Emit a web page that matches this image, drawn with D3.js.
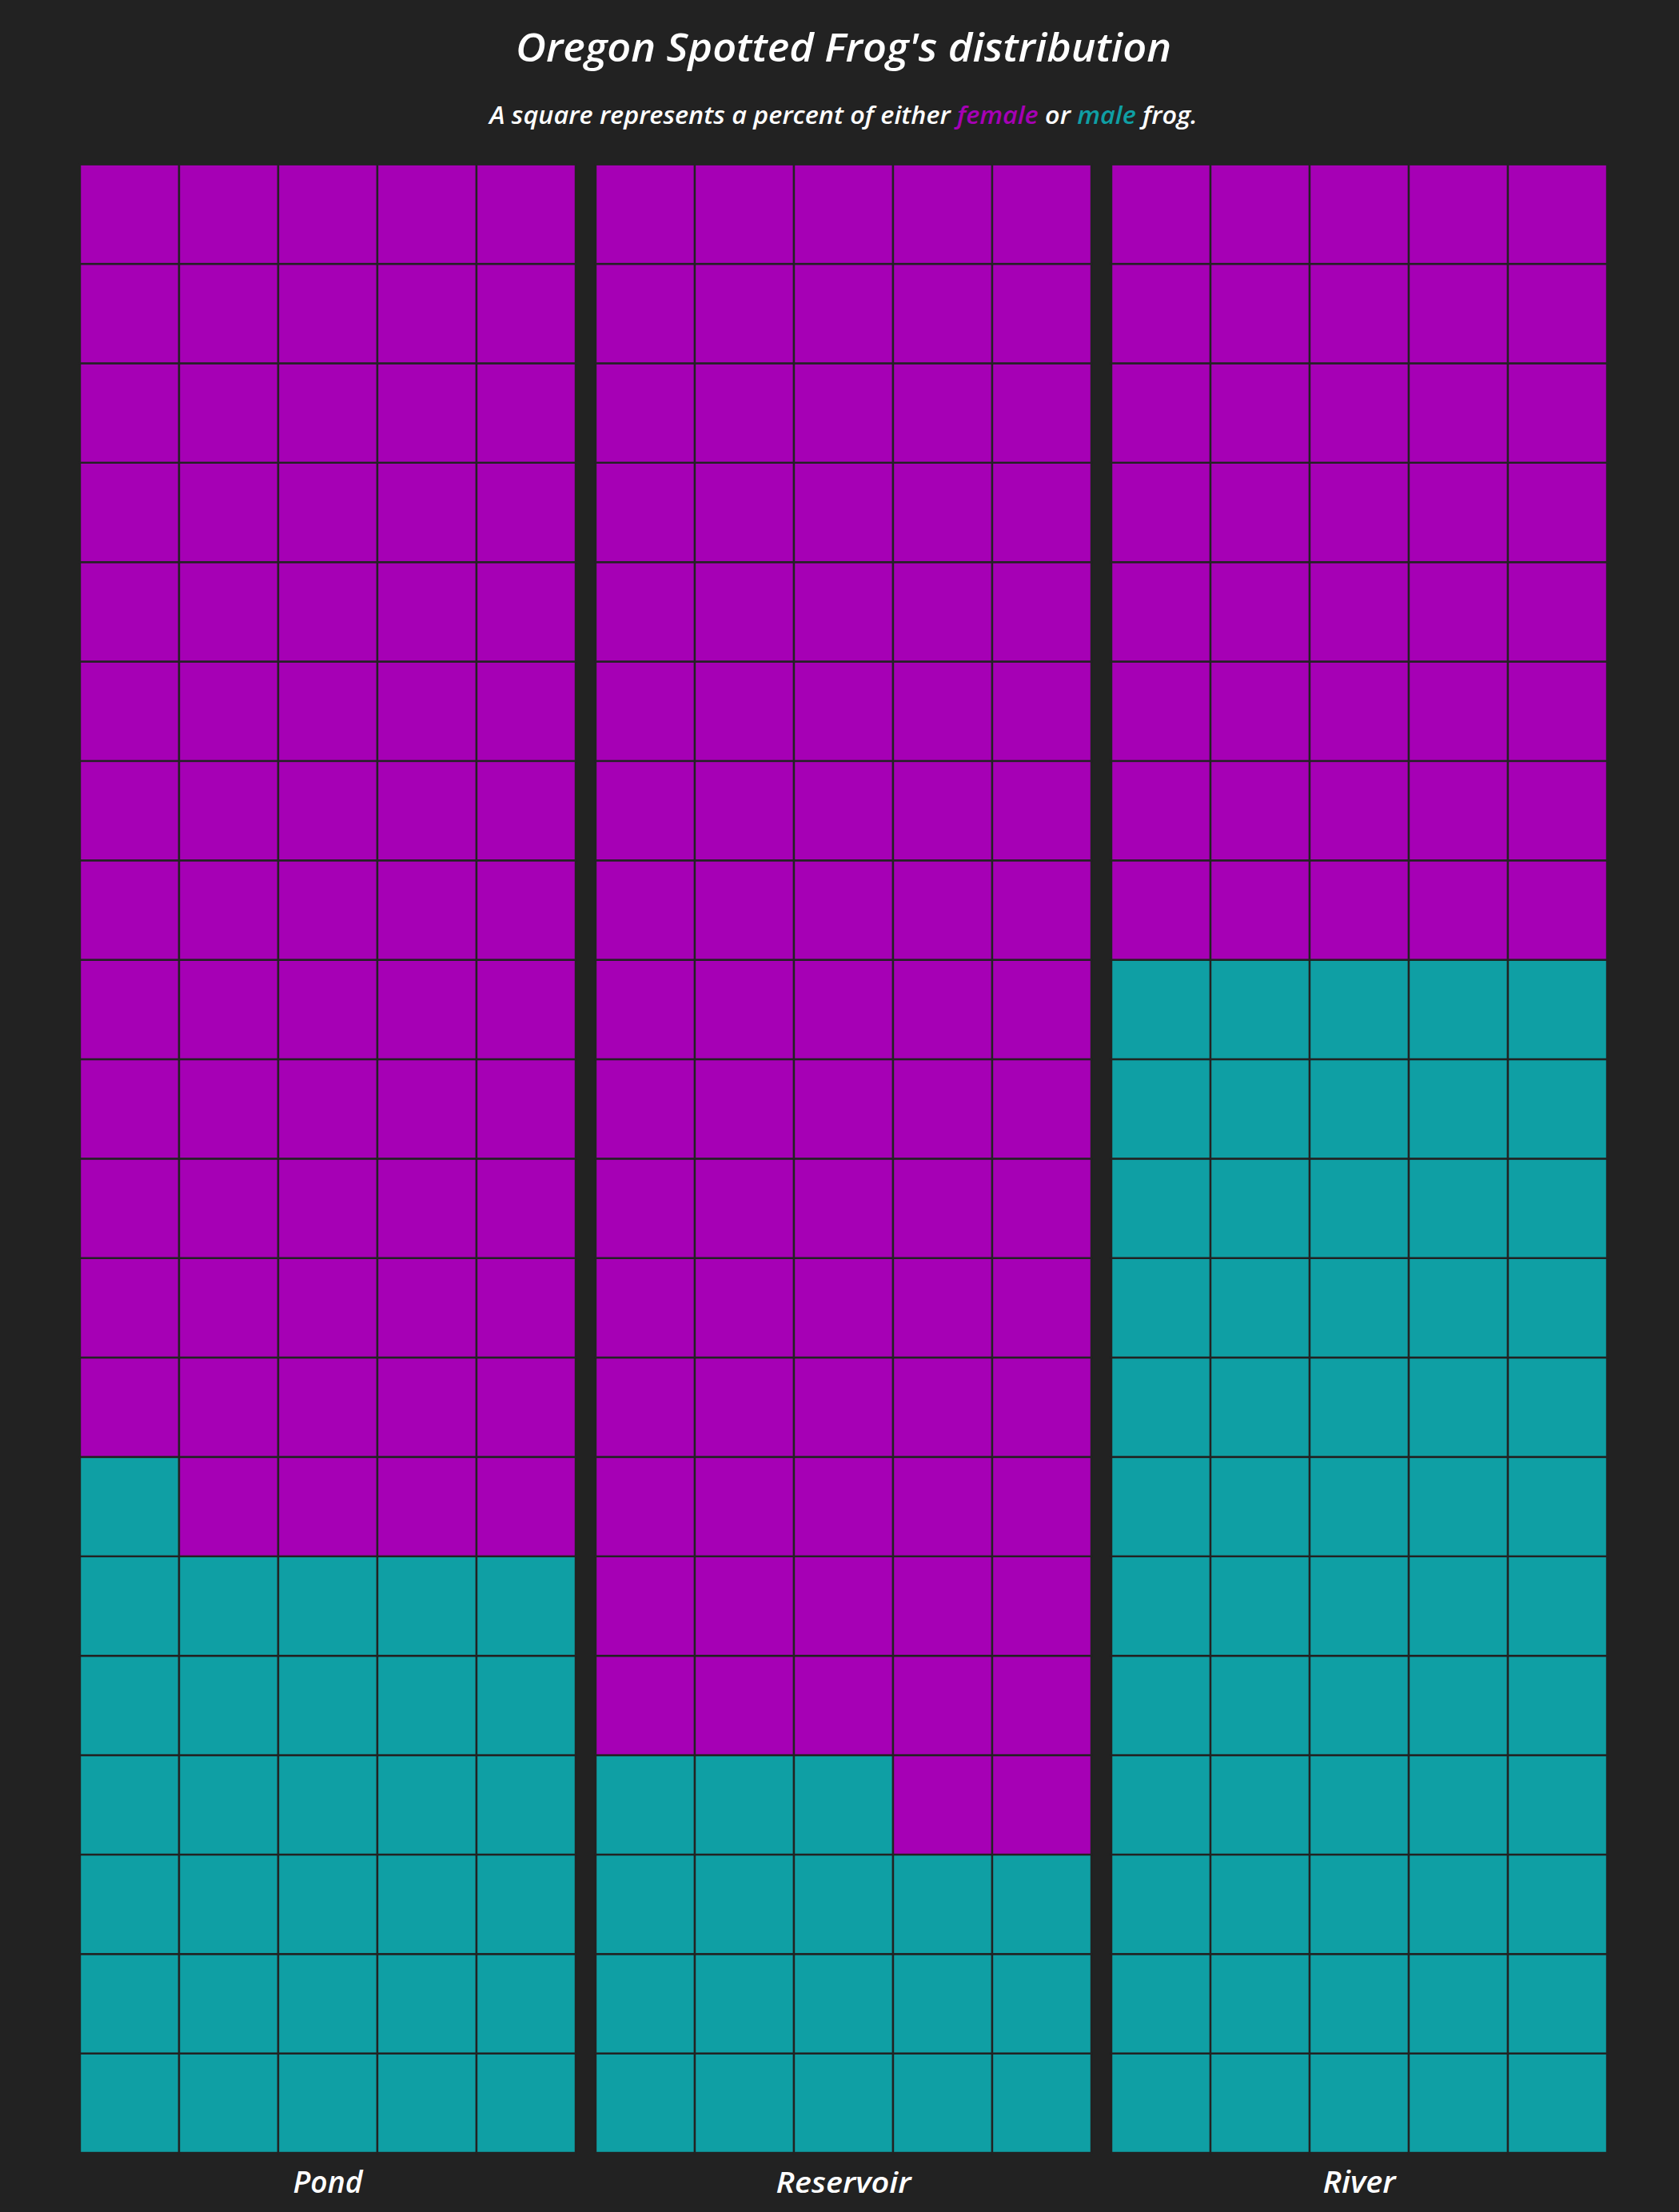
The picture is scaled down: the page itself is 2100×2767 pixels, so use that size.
<!DOCTYPE html>
<html>
<head>
<meta charset="utf-8">
<script src="https://cdn.jsdelivr.net/npm/d3@7"></script>
<style>
  html, body { margin: 0; padding: 0; background: #222222; }
  svg { display: block; }
  text { font-family: "Open Sans", "Noto Sans", sans-serif; font-style: italic; font-weight: 600; }
</style>
</head>
<body>
<svg id="chart" width="2100" height="2767"></svg>
<script>
// ---- data ----
const habitats = ["Pond", "Reservoir", "River"];
const femalePct = [69, 82, 40];
const malePct = [31, 18, 60];
const sexes = ["male", "female"];
const sexColors = ["#0f9fa4", "#a600b5"];
const titleText = "Oregon Spotted Frog's distribution";
const subtitleParts = [
  ["A square represents a percent of either ", null],
  ["female", "female"],
  [" or ", null],
  ["male", "male"],
  [" frog.", null]
];

// ---- layout ----
const W = 2100, H = 2767;
const svg = d3.select("#chart").attr("width", W).attr("height", H);
svg.append("rect").attr("width", W).attr("height", H).attr("fill", "#222222");

const color = d3.scaleOrdinal().domain(sexes).range(sexColors);

const xPanel = d3.scaleBand().domain(habitats).range([100, 2010]).paddingInner(0.0388).paddingOuter(0);
const nCols = 5, nRows = 20;
const xCol = d3.scaleBand().domain(d3.range(nCols)).range([0, xPanel.bandwidth()]);
const yRow = d3.scaleBand().domain(d3.range(nRows)).range([205.7, 2693]);

// build cells: fill from bottom-left, left to right, upward; male first
const cells = [];
habitats.forEach((h, hi) => {
  for (let i = 0; i < nCols * nRows; i++) {
    const rowFromBottom = Math.floor(i / nCols);
    const col = i % nCols;
    cells.push({
      habitat: h,
      col: col,
      row: nRows - 1 - rowFromBottom,
      sex: i < malePct[hi] ? "male" : "female"
    });
  }
});

const panels = svg.selectAll("g.panel").data(habitats).join("g")
  .attr("class", "panel")
  .attr("transform", d => `translate(${xPanel(d)},0)`);

panels.selectAll("rect.cell")
  .data(h => cells.filter(c => c.habitat === h))
  .join("rect")
  .attr("class", "cell")
  .attr("x", d => xCol(d.col))
  .attr("y", d => yRow(d.row))
  .attr("width", xCol.bandwidth())
  .attr("height", yRow.bandwidth())
  .attr("fill", d => color(d.sex))
  .attr("stroke", "#222222")
  .attr("stroke-width", 2.4);

// helper: horizontally fit text to target width around center
function fitWidth(sel, cx, targetW) {
  const node = sel.node();
  const w = node.getComputedTextLength();
  const s = targetW / w;
  sel.attr("transform", `translate(${cx},0) scale(${s},1) translate(${-cx},0)`);
}

// axis labels
panels.append("text")
  .attr("x", xPanel.bandwidth() / 2)
  .attr("y", 2743)
  .attr("text-anchor", "middle")
  .attr("fill", "#ffffff")
  .attr("font-size", 37)
  .text(d => d)
  .each(function(d) {
    const targets = { "Pond": 87, "Reservoir": 169, "River": 91 };
    fitWidth(d3.select(this), xPanel.bandwidth() / 2, targets[d]);
  });

// title
const cx = 1055;
const title = svg.append("text")
  .attr("x", cx).attr("y", 77)
  .attr("text-anchor", "middle")
  .attr("fill", "#ffffff")
  .attr("font-size", 48)
  .text(titleText);
fitWidth(title, cx, 820);

// subtitle
const sub = svg.append("text")
  .attr("x", cx).attr("y", 155)
  .attr("text-anchor", "middle")
  .attr("fill", "#ffffff")
  .attr("font-size", 30);
sub.selectAll("tspan").data(subtitleParts).join("tspan")
  .attr("fill", d => d[1] ? color(d[1]) : "#ffffff")
  .text(d => d[0]);
fitWidth(sub, cx, 886);
</script>
</body>
</html>
